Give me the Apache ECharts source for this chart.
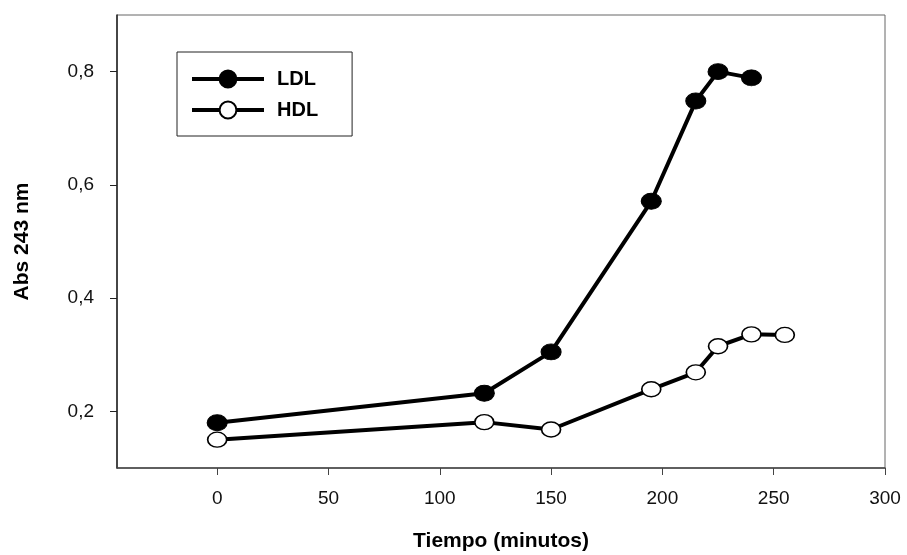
<!DOCTYPE html>
<html>
<head>
<meta charset="utf-8">
<script src="https://cdn.jsdelivr.net/npm/echarts@6/dist/echarts.min.js"></script>
<style>
  html, body { margin: 0; padding: 0; background: #fff; }
  #chart { width: 907px; height: 555px; }
</style>
</head>
<body>
<div id="chart"></div>
<script>
// data
const ldlTimes = [0, 120, 150, 195, 215, 225, 240];
const ldlAbs = [0.180, 0.232, 0.305, 0.571, 0.748, 0.800, 0.789];
const hdlTimes = [0, 120, 150, 195, 215, 225, 240, 255];
const hdlAbs = [0.150, 0.181, 0.168, 0.239, 0.269, 0.315, 0.336, 0.335];
const xTicks = [0, 50, 100, 150, 200, 250, 300];
const yTicks = [0.2, 0.4, 0.6, 0.8];

const font = "'Liberation Sans', Arial, sans-serif";
const chart = echarts.init(document.getElementById("chart"));

chart.setOption({
  animation: false,
  backgroundColor: "#fff",
  grid: {
    left: 117, right: 22, top: 15, bottom: 87,
    outerBoundsMode: "none",
    show: true, borderColor: "#666", borderWidth: 1
  },
  legend: {
    orient: "vertical",
    left: 177, top: 52,
    padding: [17, 34, 16, 13],
    itemWidth: 72, itemHeight: 21, itemGap: 11,
    borderColor: "#222", borderWidth: 1,
    lineStyle: { width: 4, color: "#000" },
    textStyle: { fontFamily: font, fontSize: 20, fontWeight: "bold", color: "#000", padding: [0, 0, 0, 8] },
    data: ["LDL", "HDL"]
  },
  xAxis: {
    type: "value",
    min: -45, max: 300,
    name: "Tiempo (minutos)",
    nameLocation: "middle",
    nameGap: 63,
    nameTextStyle: { fontFamily: font, fontSize: 21, fontWeight: "bold", color: "#000" },
    axisLine: { onZero: false, lineStyle: { color: "#444", width: 1.5 } },
    axisTick: { customValues: xTicks, length: 7, inside: false, lineStyle: { color: "#444" } },
    axisLabel: { customValues: xTicks, margin: 21, fontFamily: font, fontSize: 19, color: "#111" },
    splitLine: { show: false }
  },
  yAxis: {
    type: "value",
    min: 0.1, max: 0.9,
    name: "Abs 243 nm",
    nameLocation: "middle",
    nameRotate: 90,
    nameGap: 84,
    nameTextStyle: { fontFamily: font, fontSize: 21, fontWeight: "bold", color: "#000" },
    axisLine: { onZero: false, lineStyle: { color: "#222", width: 1.5 } },
    axisTick: { customValues: yTicks, length: 7, inside: false, lineStyle: { color: "#222" } },
    axisLabel: {
      customValues: yTicks, margin: 23, fontFamily: font, fontSize: 19, color: "#111",
      formatter: v => v.toFixed(1).replace(".", ",")
    },
    splitLine: { show: false }
  },
  series: [
    {
      name: "LDL",
      type: "line",
      data: ldlTimes.map((t, i) => [t, ldlAbs[i]]),
      symbol: "circle",
      symbolSize: [20, 16],
      lineStyle: { color: "#000", width: 4 },
      itemStyle: { color: "#000", borderColor: "#000", borderWidth: 1 }
    },
    {
      name: "HDL",
      type: "line",
      data: hdlTimes.map((t, i) => [t, hdlAbs[i]]),
      symbol: "circle",
      symbolSize: [19, 15],
      lineStyle: { color: "#000", width: 4 },
      itemStyle: { color: "#fff", borderColor: "#000", borderWidth: 1.5 }
    }
  ]
});
</script>
</body>
</html>
